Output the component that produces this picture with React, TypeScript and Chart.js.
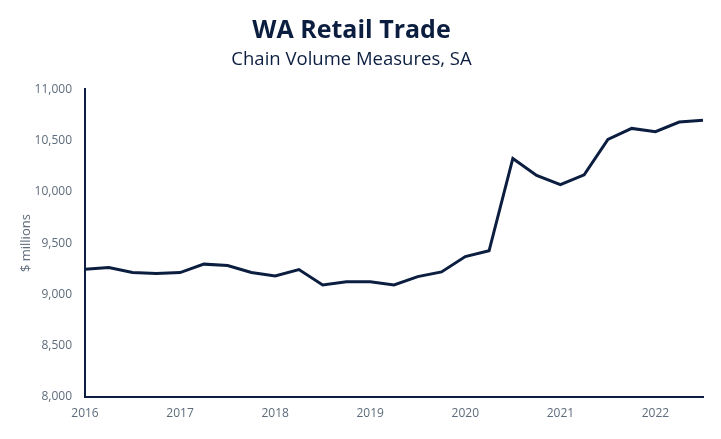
import React, { useEffect, useRef } from "react";
import { Chart, registerables } from "chart.js";

Chart.register(...registerables);

const quarters: string[] = [
  "2016", "2016Q2", "2016Q3", "2016Q4",
  "2017", "2017Q2", "2017Q3", "2017Q4",
  "2018", "2018Q2", "2018Q3", "2018Q4",
  "2019", "2019Q2", "2019Q3", "2019Q4",
  "2020", "2020Q2", "2020Q3", "2020Q4",
  "2021", "2021Q2", "2021Q3", "2021Q4",
  "2022", "2022Q2", "2022Q3",
];

const retailValues: number[] = [
  9246, 9261, 9213, 9203,
  9213, 9295, 9281, 9213,
  9180, 9242, 9092, 9124,
  9124, 9092, 9173, 9219,
  9369, 9425, 10325, 10159,
  10070, 10165, 10511, 10618,
  10586, 10680, 10697,
];

const yTicks: number[] = [8000, 8500, 9000, 9500, 10000, 10500, 11000];

const titleText = "WA Retail Trade";
const subtitleText = "Chain Volume Measures, SA";
const yAxisTitle = "$ millions";

const NAVY = "#0c1e3f";
const TICK = "#5d6b7b";
const FONT = "'Open Sans', 'Noto Sans', sans-serif";

export default function App() {
  const ref = useRef<HTMLCanvasElement | null>(null);

  useEffect(() => {
    if (!ref.current) return;
    const chart = new Chart(ref.current, {
      type: "line",
      data: {
        labels: quarters,
        datasets: [
          {
            data: retailValues,
            borderColor: NAVY,
            borderWidth: 3,
            pointRadius: 0,
            tension: 0,
            fill: false,
          },
        ],
      },
      options: {
        animation: false,
        responsive: false,
        maintainAspectRatio: false,
        layout: { padding: { top: 16, right: 18, bottom: 0, left: 0 } },
        plugins: {
          legend: { display: false },
          tooltip: { enabled: false },
          title: {
            display: true,
            text: titleText,
            color: NAVY,
            font: { family: FONT, size: 25, weight: "bold" },
            padding: { top: 0, bottom: 3 },
          },
          subtitle: {
            display: true,
            text: subtitleText,
            color: NAVY,
            font: { family: FONT, size: 18.5, weight: "normal" },
            padding: { top: 0, bottom: 18 },
          },
        },
        scales: {
          x: {
            type: "category",
            offset: false,
            grid: { display: false, drawTicks: false },
            border: { display: true, color: NAVY, width: 2 },
            ticks: {
              autoSkip: false,
              maxRotation: 0,
              padding: 9,
              color: TICK,
              font: { family: FONT, size: 12 },
              callback: function (_v: any, i: number) {
                return i % 4 === 0 ? quarters[i].slice(0, 4) : "";
              },
            },
            afterFit: (s: any) => {
              s.height = 42;
            },
          },
          y: {
            min: 8000,
            max: 11000,
            grid: { display: false, drawTicks: false },
            border: { display: true, color: NAVY, width: 2 },
            afterBuildTicks: (s: any) => {
              s.ticks = yTicks.map((v) => ({ value: v }));
            },
            ticks: {
              padding: 13,
              color: TICK,
              font: { family: FONT, size: 12 },
              callback: (v: any) => Number(v).toLocaleString("en-US"),
            },
            title: {
              display: true,
              text: yAxisTitle,
              color: TICK,
              font: { family: FONT, size: 13 },
              padding: { top: 18, bottom: 0 },
            },
            afterFit: (s: any) => {
              s.width = 85;
            },
          },
        },
      },
    });
    return () => chart.destroy();
  }, []);

  return (
    <div style={{ position: "fixed", left: 0, top: 0, width: 721, height: 439, background: "#fff" }}>
      <canvas ref={ref} width={721} height={439} style={{ width: 721, height: 439 }} />
    </div>
  );
}
